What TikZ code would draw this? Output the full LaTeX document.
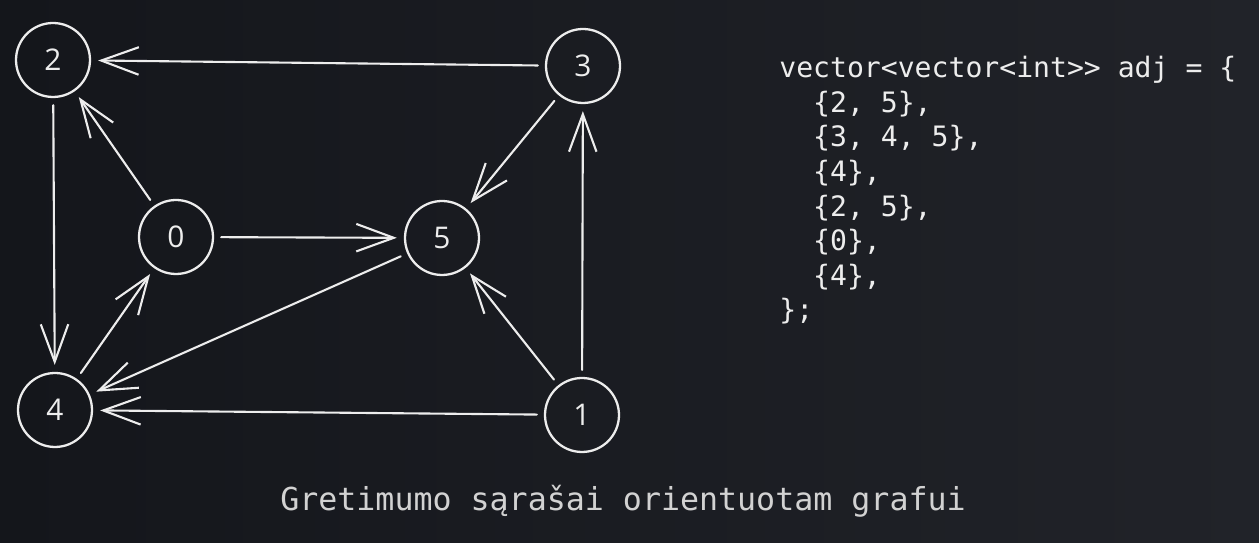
\documentclass[tikz,border=0pt]{standalone}
\usepackage{fontspec}
\setmonofont{DejaVu Sans Mono}
\newfontfamily\handfont{Open Sans}
\usetikzlibrary{arrows.meta}

\definecolor{bgdark}{HTML}{14161B}
\definecolor{bglight}{HTML}{212329}
\definecolor{chalk}{HTML}{EDEDED}
\definecolor{captiongray}{HTML}{D2D2D2}

\tikzset{
	vertex/.style={circle, draw=chalk, line width=1.3pt, minimum size=1.48cm, inner sep=0pt,
		text=chalk, font=\handfont\fontsize{17}{17}\selectfont},
	edge/.style={draw=chalk, line width=1.2pt, line cap=round, line join=round,
		-{Straight Barb[length=7.5mm,width=5.5mm,line width=1.2pt]},
		shorten <=4pt, shorten >=4pt},
}

\begin{document}
\begin{tikzpicture}[x=0.02cm, y=-0.02cm]
	% background
	\shade[left color=bgdark, right color=bglight] (0,0) rectangle (1259,543);

	% vertices
	\node[vertex] (n2) at (53,60) {2};
	\node[vertex] (n3) at (583,66) {3};
	\node[vertex] (n0) at (176,237) {0};
	\node[vertex] (n5) at (442,238) {5};
	\node[vertex] (n4) at (55,410) {4};
	\node[vertex] (n1) at (582,415) {1};

	% directed edges
	\draw[edge] (n0) -- (n2);
	\draw[edge] (n0) -- (n5);
	\draw[edge] (n1) -- (n3);
	\draw[edge] (n1) -- (n4);
	\draw[edge] (n1) -- (n5);
	\draw[edge] (n2) -- (n4);
	\draw[edge] (n3) -- (n2);
	\draw[edge] (n3) -- (n5);
	\draw[edge] (n4) -- (n0);
	\draw[edge] (n5) -- (n4);

	% adjacency list code
	\node[anchor=north west, inner sep=0pt, align=left, text=chalk,
		font=\ttfamily\fontsize{16}{19.7}\selectfont] (code) at (779,56) {%
		vector<vector<int>{}> adj = \{\\
		\hphantom{00}\{2, 5\},\\
		\hphantom{00}\{3, 4, 5\},\\
		\hphantom{00}\{4\},\\
		\hphantom{00}\{2, 5\},\\
		\hphantom{00}\{0\},\\
		\hphantom{00}\{4\},\\
		\};};

	% caption
	\node[anchor=base, inner sep=0pt, text=captiongray,
		font=\ttfamily\fontsize{18}{18}\selectfont] (caption) at (623,511)
		{Gretimumo sąrašai orientuotam grafui};
\end{tikzpicture}
\end{document}
